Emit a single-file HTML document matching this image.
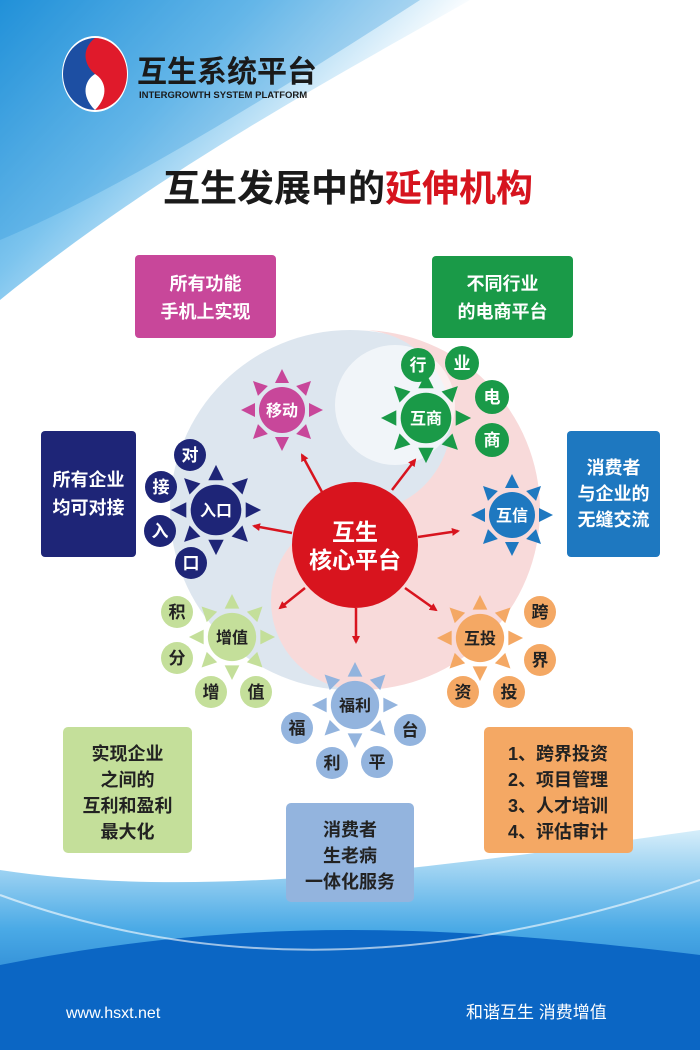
<!DOCTYPE html>
<html><head><meta charset="utf-8">
<style>
html,body{margin:0;padding:0;}
body{width:700px;height:1050px;overflow:hidden;font-family:"Liberation Sans","Noto Sans CJK SC",sans-serif;}
svg text{font-family:"Liberation Sans","Noto Sans CJK SC",sans-serif;font-weight:bold;}
</style></head><body>
<svg width="700" height="1050" viewBox="0 0 700 1050" xmlns="http://www.w3.org/2000/svg">
<defs>
<linearGradient id="tl" x1="0" y1="0" x2="1" y2="0.6">
<stop offset="0" stop-color="#1d8fd8"/><stop offset="0.4" stop-color="#7cc4ee"/><stop offset="0.75" stop-color="#ffffff"/></linearGradient>
<linearGradient id="bot" x1="0" y1="0" x2="0" y2="1">
<stop offset="0" stop-color="#d6eefa"/><stop offset="0.45" stop-color="#4aaae6"/><stop offset="1" stop-color="#0a62bf"/></linearGradient>
<g id="sun">
<polygon points="-7,-27 7,-27 0,-41"/>
<polygon points="-7,-27 7,-27 0,-41" transform="rotate(45)"/>
<polygon points="-7,-27 7,-27 0,-41" transform="rotate(90)"/>
<polygon points="-7,-27 7,-27 0,-41" transform="rotate(135)"/>
<polygon points="-7,-27 7,-27 0,-41" transform="rotate(180)"/>
<polygon points="-7,-27 7,-27 0,-41" transform="rotate(225)"/>
<polygon points="-7,-27 7,-27 0,-41" transform="rotate(270)"/>
<polygon points="-7,-27 7,-27 0,-41" transform="rotate(315)"/>
<circle r="23"/>
</g>
<marker id="ar" markerWidth="8" markerHeight="8" refX="6" refY="4" orient="auto" markerUnits="userSpaceOnUse"><path d="M0,0 L8,4 L0,8 z" fill="#d8141e"/></marker>
</defs>
<rect width="700" height="1050" fill="#fff"/>
<path d="M0,0 H470 C330,80 160,170 0,300 Z" fill="url(#tl)"/>
<path d="M0,0 H420 C280,90 120,190 0,240 Z" fill="#2b96db" opacity="0.3"/>
<path d="M0,870 C200,900 420,870 700,830 V1050 H0 Z" fill="url(#bot)"/>
<path d="M0,965 C250,915 450,925 700,955 V1050 H0 Z" fill="#0b66c4"/>
<path d="M0,895 C150,950 380,990 700,880" stroke="#ffffff" stroke-width="2" fill="none" opacity="0.6"/>
<!-- background yin-yang -->
<circle cx="350" cy="510" r="180" fill="#dde6ef"/>
<path d="M360,330 A180,180 0 0 1 360,690 A88,88 0 0 1 360,512 A90,90 0 0 0 360,330 Z" fill="#f8dada"/>
<circle cx="395" cy="405" r="60" fill="#ffffff" opacity="0.6"/>
<!-- logo -->
<ellipse cx="95" cy="74" rx="33" ry="38" fill="#fff"/>
<path d="M95,38 A32,36 0 0 0 95,110 C80,95 85,80 95,74 C105,66 110,50 95,38 Z" fill="#1d4fa3"/>
<path d="M95,38 A32,36 0 0 1 95,110 C110,95 105,80 95,74 C85,66 80,50 95,38 Z" fill="#e01a2b"/>
<text x="137" y="82" font-size="30" fill="#1a1a1a">互生系统平台</text>
<text x="139" y="98" font-size="9.5" fill="#1a1a1a">INTERGROWTH SYSTEM PLATFORM</text>
<text x="163" y="201" font-size="37" fill="#1a1a1a">互生发展中的<tspan fill="#d6141e">延伸机构</tspan></text>
<!-- boxes -->
<rect x="135" y="255" width="141" height="83" rx="4" fill="#c8479a"/>
<text x="205.5" y="290" font-size="18" fill="#fff" text-anchor="middle">所有功能</text>
<text x="205.5" y="318" font-size="18" fill="#fff" text-anchor="middle">手机上实现</text>
<rect x="432" y="256" width="141" height="82" rx="4" fill="#1a9a48"/>
<text x="502.5" y="290" font-size="18" fill="#fff" text-anchor="middle">不同行业</text>
<text x="502.5" y="318" font-size="18" fill="#fff" text-anchor="middle">的电商平台</text>
<rect x="41" y="431" width="95" height="126" rx="4" fill="#1e2577"/>
<text x="88.5" y="486" font-size="18" fill="#fff" text-anchor="middle">所有企业</text>
<text x="88.5" y="514" font-size="18" fill="#fff" text-anchor="middle">均可对接</text>
<rect x="567" y="431" width="93" height="126" rx="4" fill="#1e78c0"/>
<text x="613.5" y="474" font-size="18" fill="#fff" text-anchor="middle">消费者</text>
<text x="613.5" y="500" font-size="18" fill="#fff" text-anchor="middle">与企业的</text>
<text x="613.5" y="526" font-size="18" fill="#fff" text-anchor="middle">无缝交流</text>
<rect x="63" y="727" width="129" height="126" rx="5" fill="#c4df9a"/>
<text x="127.5" y="760" font-size="18" fill="#222" text-anchor="middle">实现企业</text>
<text x="127.5" y="786" font-size="18" fill="#222" text-anchor="middle">之间的</text>
<text x="127.5" y="812" font-size="18" fill="#222" text-anchor="middle">互利和盈利</text>
<text x="127.5" y="838" font-size="18" fill="#222" text-anchor="middle">最大化</text>
<rect x="286" y="803" width="128" height="99" rx="5" fill="#93b4de"/>
<text x="350" y="836" font-size="18" fill="#222" text-anchor="middle">消费者</text>
<text x="350" y="862" font-size="18" fill="#222" text-anchor="middle">生老病</text>
<text x="350" y="888" font-size="18" fill="#222" text-anchor="middle">一体化服务</text>
<rect x="484" y="727" width="149" height="126" rx="5" fill="#f4a864"/>
<text x="558" y="760" font-size="18" fill="#222" text-anchor="middle">1、跨界投资</text>
<text x="558" y="786" font-size="18" fill="#222" text-anchor="middle">2、项目管理</text>
<text x="558" y="812" font-size="18" fill="#222" text-anchor="middle">3、人才培训</text>
<text x="558" y="838" font-size="18" fill="#222" text-anchor="middle">4、评估审计</text>
<!-- arrows -->
<g stroke="#d8141e" stroke-width="2.5" marker-end="url(#ar)">
<line x1="322" y1="492" x2="302" y2="455"/>
<line x1="392" y1="490" x2="415" y2="460"/>
<line x1="292" y1="533" x2="254" y2="526"/>
<line x1="418" y1="537" x2="458" y2="531"/>
<line x1="305" y1="588" x2="280" y2="608"/>
<line x1="356" y1="608" x2="356" y2="642"/>
<line x1="405" y1="588" x2="436" y2="610"/>
</g>
<!-- center -->
<circle cx="355" cy="545" r="63" fill="#d8141e"/>
<text x="355" y="540" font-size="23" fill="#fff" text-anchor="middle">互生</text>
<text x="355" y="568" font-size="23" fill="#fff" text-anchor="middle">核心平台</text>
<!-- suns -->
<use href="#sun" fill="#c8479a" transform="translate(282,410)"/>
<use href="#sun" fill="#1a9a48" transform="translate(426,418) scale(1.1)"/>
<use href="#sun" fill="#1e2577" transform="translate(216,510) scale(1.1)"/>
<use href="#sun" fill="#1e78c0" transform="translate(512,515)"/>
<use href="#sun" fill="#c4df9a" transform="translate(232,637) scale(1.05)"/>
<use href="#sun" fill="#93b4de" transform="translate(355,705) scale(1.05)"/>
<use href="#sun" fill="#f4a864" transform="translate(480,638) scale(1.05)"/>
<g font-size="16" text-anchor="middle">
<text x="282" y="416" fill="#fff">移动</text>
<text x="426" y="424" fill="#fff">互商</text>
<text x="216" y="516" fill="#fff">入口</text>
<text x="512" y="521" fill="#fff">互信</text>
<text x="232" y="643" fill="#222">增值</text>
<text x="355" y="711" fill="#222">福利</text>
<text x="480" y="644" fill="#222">互投</text>
</g>
<!-- small circles -->
<g fill="#1a9a48"><circle cx="418" cy="365" r="17"/><circle cx="462" cy="363" r="17"/><circle cx="492" cy="397" r="17"/><circle cx="492" cy="440" r="17"/></g>
<g fill="#1e2577"><circle cx="190" cy="455" r="16"/><circle cx="161" cy="487" r="16"/><circle cx="160" cy="531" r="16"/><circle cx="191" cy="563" r="16"/></g>
<g fill="#c4df9a"><circle cx="177" cy="612" r="16"/><circle cx="177" cy="658" r="16"/><circle cx="211" cy="692" r="16"/><circle cx="256" cy="692" r="16"/></g>
<g fill="#93b4de"><circle cx="297" cy="728" r="16"/><circle cx="332" cy="763" r="16"/><circle cx="377" cy="762" r="16"/><circle cx="410" cy="730" r="16"/></g>
<g fill="#f4a864"><circle cx="540" cy="612" r="16"/><circle cx="540" cy="660" r="16"/><circle cx="509" cy="692" r="16"/><circle cx="463" cy="692" r="16"/></g>
<g font-size="17" text-anchor="middle" fill="#fff">
<text x="418" y="371">行</text><text x="462" y="369">业</text><text x="492" y="403">电</text><text x="492" y="446">商</text>
<text x="190" y="461">对</text><text x="161" y="493">接</text><text x="160" y="537">入</text><text x="191" y="569">口</text>
</g>
<g font-size="17" text-anchor="middle" fill="#222">
<text x="177" y="618">积</text><text x="177" y="664">分</text><text x="211" y="698">增</text><text x="256" y="698">值</text>
<text x="297" y="734">福</text><text x="332" y="769">利</text><text x="377" y="768">平</text><text x="410" y="736">台</text>
<text x="540" y="618">跨</text><text x="540" y="666">界</text><text x="509" y="698">投</text><text x="463" y="698">资</text>
</g>
<!-- footer -->
<text x="66" y="1018" font-size="16" fill="#fff" style="font-weight:normal">www.hsxt.net</text>
<text x="466" y="1018" font-size="17" fill="#fff" style="font-weight:normal">和谐互生  消费增值</text>
</svg>
</body></html>
